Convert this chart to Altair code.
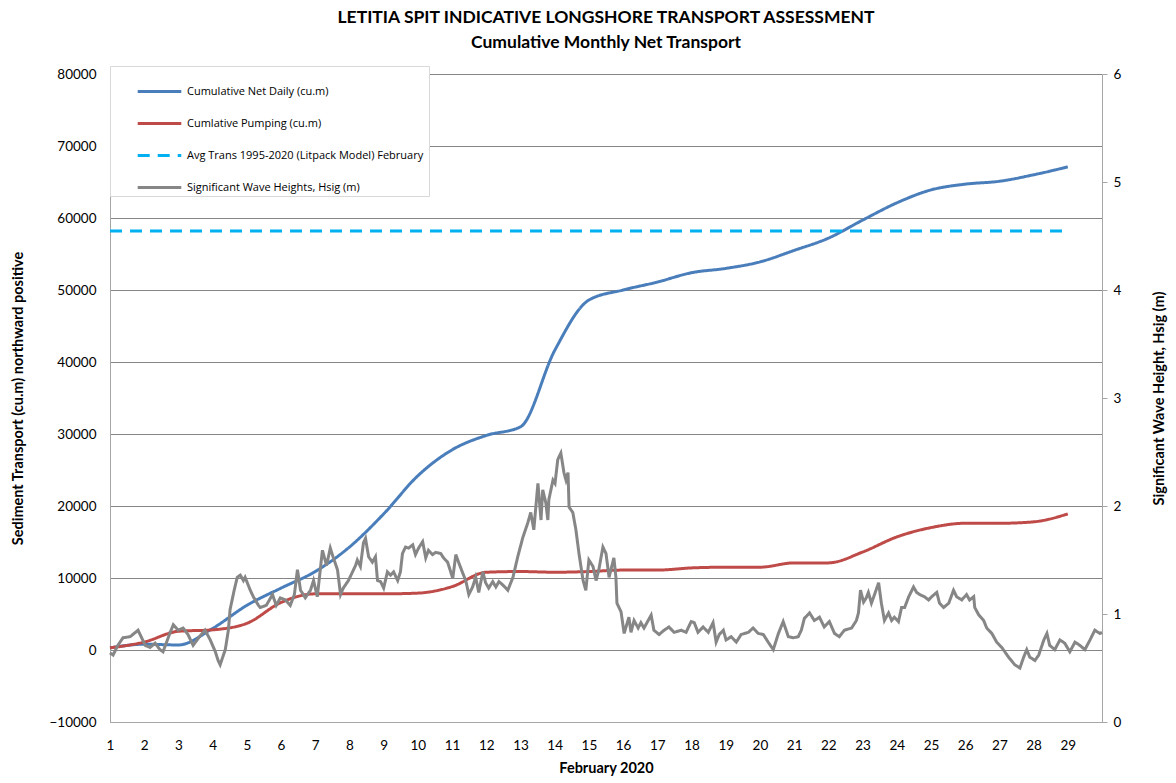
import altair as alt
import pandas as pd

# ---------------- data ----------------
DAYS = list(range(1, 30))
NET_DAILY = [300, 800, 700, 3000, 6200, 8600, 10900, 14300, 18900, 24200,
             27800, 29800, 31000, 41600, 48600, 50000, 51100, 52400, 53000, 53900,
             55500, 57200, 59700, 62100, 63900, 64700, 65100, 66000, 67100]
PUMPING = [300, 1100, 2600, 2800, 3700, 6600, 7800, 7800, 7800, 7900,
           8800, 10800, 10900, 10800, 10900, 11100, 11100, 11400, 11500, 11500,
           12100, 12100, 13600, 15700, 17000, 17600, 17600, 17800, 18900]
AVG_DAYS = [1, 29]
AVG_TRANS = 58200

WAVE_DAY = [1.00, 1.09, 1.23, 1.38, 1.59, 1.82, 2.03, 2.17, 2.32, 2.46, 2.55, 2.76, 2.85, 2.99,
            3.14, 3.28, 3.43, 3.64, 3.78, 3.93, 4.08, 4.16, 4.22, 4.37, 4.46, 4.51, 4.63, 4.72,
            4.81, 4.90, 4.95, 5.10, 5.19, 5.34, 5.39, 5.57, 5.75, 5.86, 5.98, 6.13, 6.27, 6.39,
            6.48, 6.57, 6.71, 6.86, 6.95, 7.06, 7.21, 7.33, 7.44, 7.53, 7.65, 7.74, 7.82, 7.97,
            8.09, 8.18, 8.23, 8.32, 8.41, 8.47, 8.56, 8.67, 8.76, 8.82, 8.91, 9.00, 9.11, 9.20,
            9.29, 9.41, 9.49, 9.55, 9.64, 9.73, 9.85, 9.93, 10.02, 10.14, 10.23, 10.31, 10.43,
            10.52, 10.67, 10.75, 10.87, 10.96, 11.02, 11.11, 11.19, 11.31, 11.40, 11.49, 11.60,
            11.69, 11.78, 11.90, 11.98, 12.07, 12.19, 12.28, 12.37, 12.48, 12.57, 12.63, 12.78,
            12.92, 13.07, 13.21, 13.30, 13.39, 13.51, 13.60, 13.65, 13.74, 13.80, 13.83, 13.95,
            14.01, 14.09, 14.18, 14.27, 14.33, 14.39, 14.42, 14.53, 14.62, 14.71, 14.83, 14.91,
            15.00, 15.12, 15.21, 15.29, 15.41, 15.50, 15.59, 15.73, 15.79, 15.82, 15.94, 16.03,
            16.17, 16.23, 16.32, 16.44, 16.52, 16.61, 16.82, 16.90, 17.05, 17.20, 17.34, 17.49,
            17.70, 17.84, 17.99, 18.08, 18.19, 18.34, 18.49, 18.63, 18.72, 18.81, 18.93, 19.01,
            19.16, 19.31, 19.45, 19.66, 19.80, 19.95, 20.10, 20.24, 20.39, 20.54, 20.68, 20.83,
            20.98, 21.12, 21.21, 21.30, 21.45, 21.59, 21.74, 21.88, 22.03, 22.18, 22.32, 22.47,
            22.68, 22.82, 22.88, 22.94, 23.03, 23.11, 23.17, 23.26, 23.35, 23.47, 23.55, 23.64,
            23.76, 23.85, 23.93, 24.05, 24.14, 24.23, 24.35, 24.49, 24.58, 24.67, 24.81, 24.93,
            25.02, 25.17, 25.25, 25.37, 25.52, 25.66, 25.75, 25.90, 26.04, 26.13, 26.25, 26.28,
            26.40, 26.54, 26.63, 26.78, 26.92, 27.07, 27.27, 27.45, 27.60, 27.71, 27.80, 27.89,
            28.04, 28.15, 28.30, 28.39, 28.47, 28.62, 28.77, 28.91, 29.06, 29.21, 29.35, 29.50,
            29.65, 29.79, 29.94, 30.00]
WAVE_HSIG = [0.64, 0.62, 0.71, 0.78, 0.79, 0.85, 0.71, 0.69, 0.73, 0.67, 0.65, 0.83, 0.90, 0.85,
             0.87, 0.81, 0.71, 0.80, 0.85, 0.76, 0.65, 0.57, 0.53, 0.67, 0.85, 1.04, 1.22, 1.34,
             1.36, 1.31, 1.34, 1.22, 1.16, 1.08, 1.06, 1.08, 1.18, 1.08, 1.15, 1.13, 1.08, 1.18,
             1.41, 1.22, 1.15, 1.22, 1.31, 1.16, 1.59, 1.45, 1.61, 1.52, 1.41, 1.18, 1.24, 1.31,
             1.39, 1.45, 1.50, 1.44, 1.66, 1.70, 1.53, 1.48, 1.53, 1.31, 1.30, 1.24, 1.39, 1.36,
             1.39, 1.31, 1.39, 1.56, 1.62, 1.61, 1.64, 1.55, 1.61, 1.67, 1.52, 1.59, 1.55,
             1.57, 1.56, 1.52, 1.48, 1.39, 1.33, 1.55, 1.48, 1.38, 1.31, 1.18, 1.25,
             1.34, 1.20, 1.39, 1.29, 1.24, 1.30, 1.25, 1.30, 1.27, 1.24, 1.22, 1.34,
             1.53, 1.71, 1.84, 1.94, 1.78, 2.21, 1.87, 2.15, 2.03, 1.87, 2.06, 2.24,
             2.21, 2.43, 2.49, 2.31, 2.24, 2.31, 1.99, 1.94, 1.78, 1.56, 1.31, 1.22,
             1.50, 1.44, 1.31, 1.41, 1.62, 1.56, 1.34, 1.52, 1.34, 1.10, 1.02, 0.82,
             0.97, 0.83, 0.94, 0.87, 0.92, 0.87, 0.99, 0.85, 0.81, 0.85, 0.88, 0.83,
             0.85, 0.83, 0.93, 0.92, 0.83, 0.88, 0.83, 0.92, 0.74, 0.81, 0.85, 0.76,
             0.79, 0.74, 0.81, 0.83, 0.87, 0.82, 0.81, 0.74, 0.67, 0.82, 0.93, 0.79,
             0.78, 0.79, 0.85, 0.96, 1.01, 0.94, 0.97, 0.88, 0.93, 0.82, 0.79, 0.85,
             0.87, 0.94, 1.01, 1.22, 1.11, 1.15, 1.20, 1.10, 1.18, 1.29, 1.10, 0.94,
             1.01, 0.94, 0.97, 0.93, 1.06, 1.06, 1.16, 1.25, 1.20, 1.18, 1.16, 1.13,
             1.16, 1.20, 1.10, 1.06, 1.10, 1.22, 1.16, 1.13, 1.18, 1.13, 1.16, 1.06,
             0.99, 0.94, 0.87, 0.82, 0.74, 0.69, 0.60, 0.53, 0.50, 0.60, 0.67, 0.60,
             0.57, 0.62, 0.76, 0.82, 0.71, 0.67, 0.76, 0.73, 0.65, 0.74, 0.71, 0.67,
             0.76, 0.85, 0.82, 0.83]

S_NET = "Cumulative Net Daily (cu.m)"
S_PUMP = "Cumlative Pumping (cu.m)"
S_AVG = "Avg  Trans 1995-2020 (Litpack Model) February"
S_WAVE = "Significant Wave Heights, Hsig (m)"
SERIES = [S_NET, S_PUMP, S_AVG, S_WAVE]
COLORS = ["#4a7ebb", "#be4b48", "#00b0f0", "#868686"]
DASHES = [[1, 0], [1, 0], [12, 8], [1, 0]]
WIDTHS = [3, 3, 3, 2.2]

FONT = "Lato"

left_df = pd.concat([
    pd.DataFrame({"day": DAYS, "value": NET_DAILY, "series": S_NET}),
    pd.DataFrame({"day": DAYS, "value": PUMPING, "series": S_PUMP}),
    pd.DataFrame({"day": AVG_DAYS, "value": [AVG_TRANS] * len(AVG_DAYS), "series": S_AVG}),
], ignore_index=True)
wave_df = pd.DataFrame({"day": WAVE_DAY, "hsig": WAVE_HSIG, "series": S_WAVE})

x_enc = alt.X(
    "day:Q",
    scale=alt.Scale(domain=[1, 30], nice=False, zero=False),
    axis=alt.Axis(values=DAYS, format="d", title="February 2020", grid=False,
                  ticks=False, tickSize=0, domainColor="#a6a6a6", labelFontSize=13.5,
                  labelPadding=16, labelColor="#000", labelFont=FONT, labelFlush=False,
                  titleFont=FONT, titleFontSize=14.5, titleFontWeight="bold",
                  titleColor="#000", titlePadding=10),
)

legend = alt.Legend(
    title=None, orient="none", legendX=0, legendY=-8, direction="vertical",
    fillColor="white", strokeColor="#d9d9d9", padding=2, symbolOffset=24,
    symbolType="stroke", symbolSize=1900, labelFontSize=11, labelFont="Open Sans",
    labelColor="#000", labelOffset=4, rowPadding=2, labelLimit=400,
)

color_enc = alt.Color("series:N", scale=alt.Scale(domain=SERIES, range=COLORS), legend=legend)
dash_enc = alt.StrokeDash("series:N", scale=alt.Scale(domain=SERIES, range=DASHES), legend=legend)
width_enc = alt.StrokeWidth("series:N", scale=alt.Scale(domain=SERIES, range=WIDTHS), legend=legend)

left = alt.Chart(left_df).mark_line(interpolate="monotone").encode(
    x=x_enc,
    y=alt.Y("value:Q",
            scale=alt.Scale(domain=[-10000, 80000], nice=False, zero=False),
            axis=alt.Axis(values=list(range(-10000, 80001, 10000)), format="d",
                          title="Sediment Transport (cu.m) northward positive",
                          grid=True, gridColor="#868686", gridWidth=1,
                          ticks=False, tickSize=0, domainColor="#a6a6a6",
                          labelFontSize=13.5, labelFont=FONT, labelColor="#000",
                          labelPadding=14, titleFont=FONT, titleFontSize=14.5,
                          titleFontWeight="bold", titleColor="#000", titlePadding=24)),
    color=color_enc,
    strokeDash=dash_enc,
    strokeWidth=width_enc,
)

wave = alt.Chart(wave_df).mark_line().encode(
    x=x_enc,
    y=alt.Y("hsig:Q",
            scale=alt.Scale(domain=[0, 6], nice=False, zero=False),
            axis=alt.Axis(orient="right", values=[0, 1, 2, 3, 4, 5, 6], format="d",
                          title="Significant Wave Height, Hsig (m)", grid=False,
                          ticks=True, tickSize=5, tickColor="#a6a6a6",
                          domainColor="#a6a6a6", labelFontSize=13.5, labelFont=FONT,
                          labelColor="#000", labelPadding=6, titleFont=FONT,
                          titleFontSize=14.5, titleFontWeight="bold", titleColor="#000",
                          titleAngle=270, titlePadding=46)),
    color=color_enc,
    strokeDash=dash_enc,
    strokeWidth=width_enc,
)

chart = alt.layer(left, wave).resolve_scale(y="independent").properties(
    width=992,
    height=648,
    autosize=alt.AutoSizeParams(type="none"),
    padding={"left": 102, "top": 66, "right": 66, "bottom": 58},
    title=alt.Title(
        text="LETITIA SPIT INDICATIVE LONGSHORE TRANSPORT ASSESSMENT",
        subtitle="Cumulative Monthly Net Transport",
        font=FONT, fontSize=17.5, fontWeight="bold", color="#000",
        subtitleFont=FONT, subtitleFontSize=17.5, subtitleFontWeight="bold",
        subtitleColor="#000", subtitlePadding=8, anchor="middle", offset=14,
    ),
).configure_view(stroke=None).configure(background="white")

chart.save("out.html", embed_options={"renderer": "svg", "actions": False})
